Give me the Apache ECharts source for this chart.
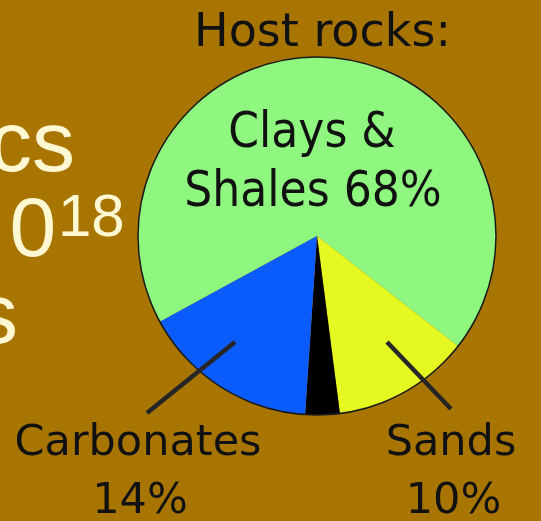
<!DOCTYPE html>
<html>
<head>
<meta charset="utf-8">
<script src="https://cdn.jsdelivr.net/npm/echarts@6/dist/echarts.min.js"></script>
<style>
html,body{margin:0;padding:0;background:#A87600;}
#chart{width:541px;height:521px;}
</style>
</head>
<body>
<div id="chart"></div>
<script>
// Data (share of the drawn pie)
const categories = ['Clays & Shales', 'Sands', 'Other', 'Carbonates'];
const values = [68.5, 12.4, 3.1, 16.0];
const sliceColors = ['#8FF77F', '#E6F822', '#000000', '#0A5CFF'];
const labelTexts = ['Host rocks:', 'Clays &', 'Shales 68%', 'Carbonates', '14%', 'Sands', '10%'];
const sideTexts = ['cs', '0', '18', 's'];

const chart = echarts.init(document.getElementById('chart'), null, {renderer: 'canvas'});
const dark = '#111111';
const cream = '#FFF8D2';
const F = 'DejaVu Sans';
const FC = '"DejaVu Sans Condensed", "DejaVu Sans"';
const FS = '"Liberation Sans", Arial';

function txt(text, x, y, size, opts) {
  opts = opts || {};
  return {
    type: 'text', x: x, y: y, z: 10, silent: true,
    style: {
      text: text,
      fill: opts.fill || dark,
      font: size + 'px ' + (opts.family || F),
      align: opts.align || 'center',
      verticalAlign: 'middle'
    }
  };
}

chart.setOption({
  backgroundColor: '#A87600',
  animation: false,
  series: [
    {
      type: 'pie',
      center: [317, 236],
      radius: [0, 179],
      startAngle: 208.6,
      clockwise: true,
      silent: true,
      label: {show: false},
      labelLine: {show: false},
      emphasis: {disabled: true},
      itemStyle: {borderWidth: 0},
      data: categories.map((c, i) => ({name: c, value: values[i], itemStyle: {color: sliceColors[i]}}))
    },
    {
      type: 'pie',
      center: [317, 236],
      radius: [0, 179],
      silent: true,
      z: 3,
      label: {show: false},
      labelLine: {show: false},
      emphasis: {disabled: true},
      itemStyle: {color: 'rgba(0,0,0,0)', borderColor: '#1a1a1a', borderWidth: 1.5},
      data: [{name: 'outline', value: 1}]
    }
  ],
  graphic: [
    txt(labelTexts[0], 322.5, 34, 46),
    txt(labelTexts[1], 312, 134, 49, {family: FC}),
    txt(labelTexts[2], 313, 193, 49, {family: FC}),
    txt(labelTexts[3], 138, 444, 43),
    txt(labelTexts[4], 140, 502, 43),
    txt(labelTexts[5], 451, 444, 43),
    txt(labelTexts[6], 453.5, 502, 43),
    txt(sideTexts[0], 75, 147, 86, {fill: cream, family: FS, align: 'right'}),
    txt(sideTexts[1], 9.5, 233, 84, {fill: cream, family: FS, align: 'left'}),
    txt(sideTexts[2], 58, 219, 60, {fill: cream, family: FS, align: 'left'}),
    txt(sideTexts[3], 18, 319, 86, {fill: cream, family: FS, align: 'right'}),
    {type: 'line', z: 20, silent: true, shape: {x1: 235, y1: 342, x2: 147, y2: 413}, style: {stroke: '#262626', lineWidth: 4.5}},
    {type: 'line', z: 20, silent: true, shape: {x1: 387, y1: 342, x2: 451, y2: 409}, style: {stroke: '#262626', lineWidth: 4.5}}
  ]
});
</script>
</body>
</html>
